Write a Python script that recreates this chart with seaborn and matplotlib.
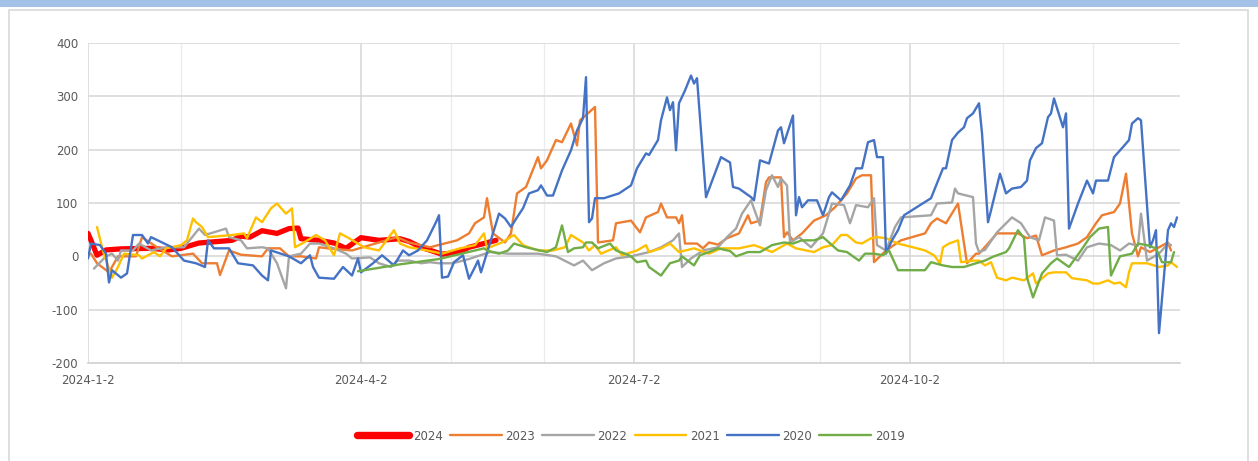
import matplotlib
matplotlib.use('Agg')
import matplotlib.pyplot as plt
import matplotlib.dates as mdates
from matplotlib.patches import Rectangle
from matplotlib.ticker import FuncFormatter
import numpy as np
import pandas as pd
import seaborn as sns

# x values: calendar days after 2024-01-02, y values
days_2024 = [0, 1, 3, 6, 11, 21, 27, 31, 37, 48, 51, 54, 58, 63, 67, 70, 71, 77, 82, 86,
             91, 97, 104, 107, 111, 118, 124, 127, 132, 136]
vals_2024 = [43, 30, 2, 12, 14, 15, 12, 15, 25, 30, 38, 36, 48, 43, 52, 53, 33, 30, 25, 15,
             35, 30, 33, 28, 17, 4, 8, 17, 24, 30]

days_2023 = [1, 3, 7, 10, 16, 18, 23, 28, 35, 38, 43, 44, 47, 51, 58, 60, 64, 67, 71, 76,
             77, 80, 88, 103, 107, 114, 123, 127, 129, 132, 133, 135, 139, 141, 143, 146, 150,
             151, 153, 156, 158, 161, 163, 164, 169, 170, 175, 176, 181, 184, 186, 190, 191,
             193, 196, 197, 198, 199, 203, 205, 207, 210, 213, 217, 220, 221, 224, 226, 227,
             231, 232, 233, 235, 238, 242, 246, 249, 253, 256, 258, 261, 262, 266, 271, 279,
             281, 283, 286, 290, 293, 296, 297, 303, 306, 310, 313, 316, 318, 322, 326, 330,
             333, 336, 338, 342, 344, 346, 348, 350, 351, 354, 357, 360, 361]
vals_2023 = [5, -13, -30, 0, 0, 36, 17, 0, 5, -13, -13, -35, 11, 3, 0, 15, 15, 0, 0, -4,
             17, 15, 11, 36, 26, 17, 30, 43, 62, 73, 109, 43, 26, 43, 118, 130, 186,
             165, 180, 218, 214, 249, 208, 255, 280, 26, 30, 62, 67, 45, 73, 83, 99,
             73, 73, 62, 77, 24, 24, 15, 26, 22, 34, 43, 77, 62, 67, 139, 148,
             148, 36, 45, 30, 43, 67, 77, 92, 118, 146, 152, 152, -11, 11, 30, 43,
             62, 71, 62, 99, -13, 5, 5, 43, 43, 43, 34, 39, 2, 11, 17, 24,
             36, 62, 77, 83, 99, 155, 43, 0, 17, 8, 17, 26, 11]

days_2022 = [2, 6, 8, 10, 11, 15, 17, 21, 26, 32, 37, 39, 46, 47, 51, 53, 58, 60, 63, 66,
             67, 71, 74, 77, 82, 86, 88, 94, 97, 101, 103, 107, 111, 114, 117, 121, 123, 127,
             134, 140, 150, 156, 162, 165, 168, 172, 176, 181, 187, 191, 195, 197, 198, 201,
             205, 210, 213, 216, 218, 221, 224, 226, 228, 230, 231, 233, 234, 237, 241, 245,
             248, 252, 254, 256, 260, 262, 263, 266, 269, 271, 281, 283, 288, 289, 290, 295,
             296, 297, 299, 303, 308, 311, 314, 317, 319, 322, 323, 326, 330, 333, 337, 341,
             344, 347, 350, 351, 353, 357, 360, 361]
vals_2022 = [-23, 0, 5, -8, 11, 11, 24, 11, 17, 17, 52, 40, 52, 36, 30, 15, 17, 15, -13, -60,
             0, 5, 24, 24, 15, 5, -4, -2, -13, -20, -8, -8, -13, -11, -13, -13, -11, -5,
             8, 5, 5, 0, -17, -8, -26, -13, -4, 0, 8, 17, 30, 43, -20, -4,
             11, 17, 36, 52, 80, 105, 58, 124, 152, 130, 146, 133, 26, 36, 17, 43,
             99, 96, 62, 96, 92, 109, 21, 11, 55, 73, 77, 99, 101, 127, 118, 111,
             24, 8, 12, 45, 73, 62, 36, 30, 73, 67, 2, 3, -8, 17, 24, 21,
             11, 24, 20, 80, -8, 5, 24, 21]

days_2021 = [3, 5, 8, 10, 12, 17, 18, 22, 24, 26, 31, 33, 35, 36, 38, 40, 48, 52, 53, 56,
             58, 61, 63, 66, 68, 69, 72, 76, 79, 82, 84, 87, 92, 97, 102, 104, 107, 113, 118,
             124, 129, 132, 133, 138, 142, 145, 150, 155, 159, 161, 165, 167, 169, 171, 176,
             178, 183, 186, 187, 191, 194, 197, 202, 207, 211, 217, 222, 225, 228, 233, 236,
             242, 245, 248, 251, 253, 256, 258, 261, 263, 266, 270, 275, 279, 282, 284, 285,
             287, 290, 291, 295, 297, 299, 301, 303, 306, 308, 312, 315, 316, 320, 322, 326,
             328, 333, 335, 337, 340, 342, 344, 346, 347, 348, 353, 357, 360, 361, 363]
vals_2021 = [55, 10, -40, -20, 5, 2, -4, 8, 0, 15, 21, 30, 71, 64, 55, 36, 40, 43, 34, 73,
             64, 90, 99, 80, 90, 17, 26, 40, 30, 2, 43, 34, 17, 11, 49, 24, 17, 11, 5,
             15, 21, 43, 15, 26, 40, 21, 11, 11, 17, 40, 26, 11, 21, 5, 17,
             2, 11, 21, 8, 15, 24, 8, 15, 5, 15, 15, 21, 15, 8, 24, 15,
             8, 17, 21, 40, 40, 26, 24, 34, 36, 34, 24, 17, 11, 2, -13, 17,
             24, 30, -11, -8, -8, -17, -11, -40, -45, -40, -45, -32, -51, -32, -30, -30,
             -41, -45, -51, -51, -45, -51, -49, -58, -30, -13, -13, -20, -17, -11, -20]

days_2020 = [0, 1, 4, 6, 7, 8, 11, 13, 15, 18, 20, 21, 28, 32, 36, 39, 40, 42, 47, 50,
             55, 58, 60, 61, 67, 71, 74, 75, 77, 82, 85, 88, 90, 91, 95, 98, 102, 105, 107,
             110, 113, 116, 117, 118, 120, 122, 125, 127, 129, 130, 131, 137, 139, 141, 143,
             145, 147, 150, 151, 153, 155, 158, 161, 163, 165, 166, 167, 168, 169, 172, 177,
             181, 183, 186, 187, 190, 191, 193, 194, 195, 196, 197, 199, 201, 202, 203, 206,
             211, 214, 215, 217, 221, 222, 224, 227, 230, 231, 232, 235, 236, 237, 238, 240,
             243, 245, 247, 248, 251, 254, 256, 258, 260, 262, 263, 265, 266, 268, 270, 272,
             281, 283, 285, 286, 288, 290, 292, 293, 295, 297, 298, 300, 301, 304, 306, 308,
             311, 313, 314, 316, 318, 320, 321, 322, 325, 326, 327, 330, 333, 335, 336, 340,
             342, 345, 347, 348, 350, 351, 354, 355, 356, 357, 360, 361, 362, 363]
vals_2020 = [-4, 24, 21, 5, -49, -26, -40, -32, 40, 40, 24, 36, 17, -8, -13, -20, 30, 15, 15, -13,
             -17, -36, -45, 11, 0, -13, 2, -20, -40, -42, -20, -36, -4, -30, -13, 2, -17, 11, 2,
             11, 30, 64, 77, -40, -38, -11, 2, -42, -20, -8, -30, 80, 71, 55, 73,
             90, 118, 124, 133, 114, 114, 161, 199, 236, 259, 336, 64, 71, 109, 109, 118,
             133, 165, 193, 190, 218, 255, 298, 274, 289, 199, 287, 311, 339, 324, 334, 111,
             186, 176, 130, 127, 111, 105, 180, 174, 236, 242, 212, 264, 77, 111, 92, 105,
             105, 77, 111, 120, 105, 133, 165, 165, 214, 218, 186, 186, 5, 30, 49, 77,
             109, 137, 165, 165, 218, 232, 242, 259, 268, 287, 231, 64, 86, 155, 118, 127,
             130, 142, 180, 203, 212, 261, 268, 296, 242, 268, 52, 99, 142, 118, 142, 142,
             186, 205, 218, 249, 259, 255, 17, 30, 49, -144, 49, 62, 55, 73]

days_2019 = [90, 104, 117, 132, 133, 137, 140, 142, 146, 153, 156, 158, 160, 162, 165, 166,
             168, 170, 174, 176, 179, 181, 183, 186, 187, 191, 194, 197, 198, 202, 204, 207,
             210, 214, 216, 220, 224, 228, 232, 235, 238, 242, 245, 247, 250, 253, 257, 259,
             262, 265, 267, 270, 279, 281, 285, 288, 292, 296, 299, 302, 306, 307, 310, 312,
             313, 315, 318, 321, 323, 327, 331, 334, 337, 340, 341, 344, 348, 350, 353, 356,
             358, 361, 362]
vals_2019 = [-28, -15, -5, 15, 11, 5, 11, 24, 17, 8, 17, 58, 8, 15, 17, 26,
             26, 15, 24, 11, 5, 0, -11, -8, -20, -36, -13, -8, 0, -17, 2, 8,
             15, 10, 0, 8, 8, 21, 26, 24, 30, 30, 36, 26, 11, 8, -8, 5,
             5, 2, 11, -26, -26, -11, -17, -20, -20, -13, -8, 0, 8, 15, 49, 34,
             -40, -77, -32, -13, -4, -20, 11, 36, 52, 55, -36, 0, 5, 24, 21, 15,
             -11, -11, 8]

years = ['2024', '2023', '2022', '2021', '2020', '2019']
colors = ['#FF0000', '#ED7D31', '#A5A5A5', '#FFC000', '#4472C4', '#70AD47']
widths = [3.8, 1.7, 1.7, 1.7, 1.7, 1.7]
series = [(days_2024, vals_2024), (days_2023, vals_2023), (days_2022, vals_2022),
          (days_2021, vals_2021), (days_2020, vals_2020), (days_2019, vals_2019)]

start = pd.Timestamp('2024-01-02')
frames = []
for year, (d, v) in zip(years, series):
    frames.append(pd.DataFrame({'date': start + pd.to_timedelta(d, unit='D'),
                                'value': v, 'year': year}))
df = pd.concat(frames, ignore_index=True)

sns.set_style('white')
plt.rcParams['font.family'] = ['DejaVu Sans']
plt.rcParams['axes.unicode_minus'] = False

fig = plt.figure(figsize=(12.58, 4.61), dpi=100)
ax = fig.add_axes([88 / 1258, 1 - 363 / 461, (1180 - 88) / 1258, (363 - 43) / 461])

# chart frame like the spreadsheet export
fig.patches.append(Rectangle((0, 1 - 7 / 461), 1, 7 / 461, transform=fig.transFigure,
                             facecolor='#a4c2e8', edgecolor='none', zorder=0))
fig.patches.append(Rectangle((9 / 1258, -0.02), (1248 - 9) / 1258, 1 - 10 / 461 + 0.02,
                             transform=fig.transFigure, facecolor='none',
                             edgecolor='#d9d9d9', linewidth=1.2, zorder=0))

grid_major = '#d9d9d9'
grid_minor = '#ececec'
for m in ['2024-02-02', '2024-05-02', '2024-06-02', '2024-09-02', '2024-11-02', '2024-12-02']:
    ax.axvline(pd.Timestamp(m), color=grid_minor, linewidth=1.0, zorder=0)
for m in ['2024-01-02', '2024-04-02', '2024-07-02', '2024-10-02']:
    ax.axvline(pd.Timestamp(m), color=grid_major, linewidth=1.2, zorder=0)
for yv in range(-100, 401, 100):
    ax.axhline(yv, color=grid_major, linewidth=1.2, zorder=0)

for year, color, lw in zip(years, colors, widths):
    sub = df[df['year'] == year]
    sns.lineplot(data=sub, x='date', y='value', color=color, linewidth=lw, label=year,
                 sort=False, estimator=None, ax=ax, solid_joinstyle='round',
                 solid_capstyle='round')

ax.set_xlim(start, pd.Timestamp('2024-12-31'))
ax.set_ylim(-200, 400)
ax.set_yticks(range(-200, 401, 100))
ax.set_xticks([pd.Timestamp(t) for t in ['2024-01-02', '2024-04-02', '2024-07-02', '2024-10-02']])
ax.xaxis.set_major_formatter(FuncFormatter(
    lambda x, pos: '{0.year}-{0.month}-{0.day}'.format(mdates.num2date(x))))
ax.set_xlabel('')
ax.set_ylabel('')
ax.tick_params(axis='both', length=0, labelsize=8.5, labelcolor='#595959')
ax.tick_params(axis='y', pad=7)
ax.tick_params(axis='x', pad=8)
for side in ['top', 'right', 'left']:
    ax.spines[side].set_visible(False)
ax.spines['bottom'].set_color('#d0d0d0')
ax.spines['bottom'].set_linewidth(1.2)
ax.set_facecolor('none')

leg = ax.legend(loc='center', bbox_to_anchor=(631 / 1258, 25 / 461), bbox_transform=fig.transFigure,
                ncol=6, frameon=False, handlelength=4.4, handletextpad=0.3, columnspacing=0.6,
                fontsize=8.5)
for t in leg.get_texts():
    t.set_color('#595959')
for h, lw in zip(leg.get_lines(), widths):
    h.set_linewidth(lw * 1.4 if lw > 2 else lw)

fig.savefig('out.png', dpi=100)
